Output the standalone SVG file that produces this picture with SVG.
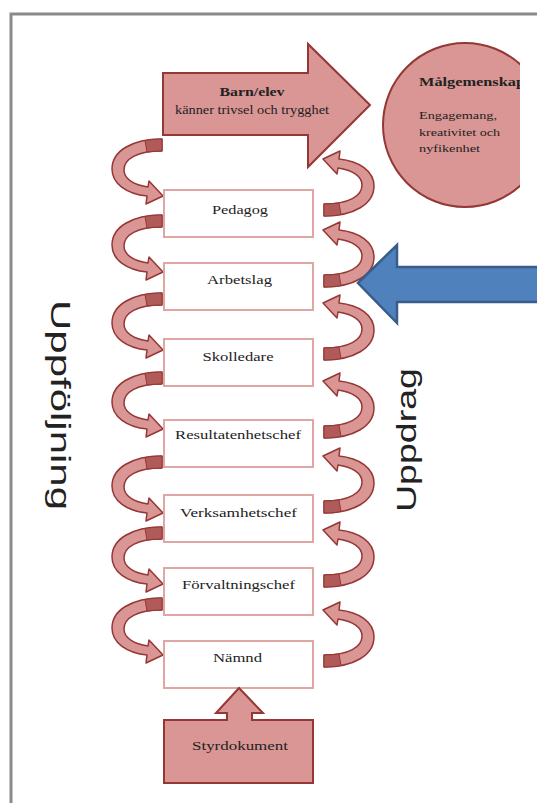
<svg xmlns="http://www.w3.org/2000/svg" xmlns:xlink="http://www.w3.org/1999/xlink" width="537" height="803" viewBox="0 0 537 803">
<style>
.pink{fill:#d99694;stroke:#953735;stroke-width:2}
.box{fill:#ffffff;stroke:#e0a6a4;stroke-width:2}
.lbl{font-family:"Liberation Serif","Times New Roman",serif;font-size:13px;fill:#222;text-anchor:middle}
.big{font-family:"Liberation Sans",Arial,sans-serif;font-size:28px;fill:#222}
.ctxt{font-family:"Liberation Serif","Times New Roman",serif;font-size:11px;fill:#222}
.carrow{fill:#d99694;stroke:#953735;stroke-width:1.5;stroke-linejoin:round}
.cband{fill:#b05b59;stroke:#953735;stroke-width:1}
</style>
<defs>
<clipPath id="clipR"><rect x="0" y="0" width="520" height="803"/></clipPath>
<g id="curl">
<path class="carrow" d="M0,0 C-30,0 -50,12 -50,30 C-50,45 -35,55 -15,57 L-16,65 L1,57 L-13,42 L-14,48 C-28,46 -38,40 -38,31 C-38,20 -25,12 0,12 Z"/>
<path class="cband" d="M0,0 C-6,0 -12,0.5 -17,1.5 L-15,13 C-10,12.3 -5,12 0,12 Z"/>
</g>
</defs>
<rect x="0" y="0" width="537" height="803" fill="#ffffff"/>
<path d="M11,803 L11,14 L537,14" fill="none" stroke="#8a8a8a" stroke-width="3"/>

<g id="connectors">
<use xlink:href="#curl" transform="translate(162,139)"/>
<use xlink:href="#curl" transform="translate(162,215)"/>
<use xlink:href="#curl" transform="translate(162,293)"/>
<use xlink:href="#curl" transform="translate(162,372)"/>
<use xlink:href="#curl" transform="translate(162,456)"/>
<use xlink:href="#curl" transform="translate(162,527)"/>
<use xlink:href="#curl" transform="translate(162,598)"/>
<use xlink:href="#curl" transform="translate(324,216) rotate(180)"/>
<use xlink:href="#curl" transform="translate(324,287) rotate(180)"/>
<use xlink:href="#curl" transform="translate(324,360) rotate(180)"/>
<use xlink:href="#curl" transform="translate(324,438) rotate(180)"/>
<use xlink:href="#curl" transform="translate(324,513) rotate(180)"/>
<use xlink:href="#curl" transform="translate(324,587) rotate(180)"/>
<use xlink:href="#curl" transform="translate(324,667) rotate(180)"/>
</g>

<g id="barn-elev">
<path class="pink" d="M163,73 L308,73 L308,44 L370,105 L308,167 L308,135 L163,135 Z"/>
<text x="252" y="96" font-family="'Liberation Serif','Times New Roman',serif" font-size="12" font-weight="bold" fill="#222" text-anchor="middle" textLength="65" lengthAdjust="spacingAndGlyphs">Barn/elev</text>
<text x="252" y="114" font-family="'Liberation Serif','Times New Roman',serif" font-size="11.5" fill="#222" text-anchor="middle" textLength="154" lengthAdjust="spacingAndGlyphs">känner trivsel och trygghet</text>
</g>

<g id="malgemenskap" clip-path="url(#clipR)">
<circle class="pink" cx="465" cy="125" r="82"/>
<text x="419" y="86" font-family="'Liberation Serif','Times New Roman',serif" font-size="12" font-weight="bold" fill="#222" textLength="106" lengthAdjust="spacingAndGlyphs">Målgemenskap</text>
<text class="ctxt" x="419" y="119" textLength="78" lengthAdjust="spacingAndGlyphs">Engagemang,</text>
<text class="ctxt" x="419" y="136" textLength="81" lengthAdjust="spacingAndGlyphs">kreativitet och</text>
<text class="ctxt" x="419" y="152" textLength="61" lengthAdjust="spacingAndGlyphs">nyfikenhet</text>
</g>

<g id="pedagog"><rect class="box" x="164" y="190" width="149" height="47"/><text class="lbl" x="240" y="214" textLength="56" lengthAdjust="spacingAndGlyphs">Pedagog</text></g>
<g id="arbetslag"><rect class="box" x="164" y="263" width="149" height="47"/><text class="lbl" x="239.5" y="284" textLength="65" lengthAdjust="spacingAndGlyphs">Arbetslag</text></g>
<g id="skolledare"><rect class="box" x="164" y="339" width="149" height="47"/><text class="lbl" x="238" y="361" textLength="71" lengthAdjust="spacingAndGlyphs">Skolledare</text></g>
<g id="resultatenhetschef"><rect class="box" x="164" y="420" width="149" height="47"/><text class="lbl" x="238" y="439" textLength="126" lengthAdjust="spacingAndGlyphs">Resultatenhetschef</text></g>
<g id="verksamhetschef"><rect class="box" x="164" y="495" width="149" height="47"/><text class="lbl" x="238.5" y="517" textLength="117" lengthAdjust="spacingAndGlyphs">Verksamhetschef</text></g>
<g id="forvaltningschef"><rect class="box" x="164" y="568" width="149" height="47"/><text class="lbl" x="238.5" y="589" textLength="113" lengthAdjust="spacingAndGlyphs">Förvaltningschef</text></g>
<g id="namnd"><rect class="box" x="164" y="641" width="149" height="47"/><text class="lbl" x="237.5" y="662" textLength="49" lengthAdjust="spacingAndGlyphs">Nämnd</text></g>

<g id="styrdokument">
<path class="pink" d="M164,720 L227,720 L227,713 L216,713 L239,688 L263,713 L252,713 L252,720 L313,720 L313,783 L164,783 Z"/>
<text class="lbl" x="240" y="750" textLength="96" lengthAdjust="spacingAndGlyphs">Styrdokument</text>
</g>

<g id="blue-arrow">
<path d="M358,283 L397,245 L397,267 L540,267 L540,302 L397,302 L397,323 Z" fill="#4f81bd" stroke="#385d8a" stroke-width="2.5" stroke-linejoin="miter"/>
</g>

<g id="uppfoljning">
<text class="big" transform="translate(51,300) rotate(90)" x="0" y="0" textLength="210" lengthAdjust="spacingAndGlyphs">Uppföljning</text>
</g>
<g id="uppdrag">
<text class="big" transform="translate(416,512) rotate(-90)" x="0" y="0" textLength="144" lengthAdjust="spacingAndGlyphs">Uppdrag</text>
</g>
</svg>
